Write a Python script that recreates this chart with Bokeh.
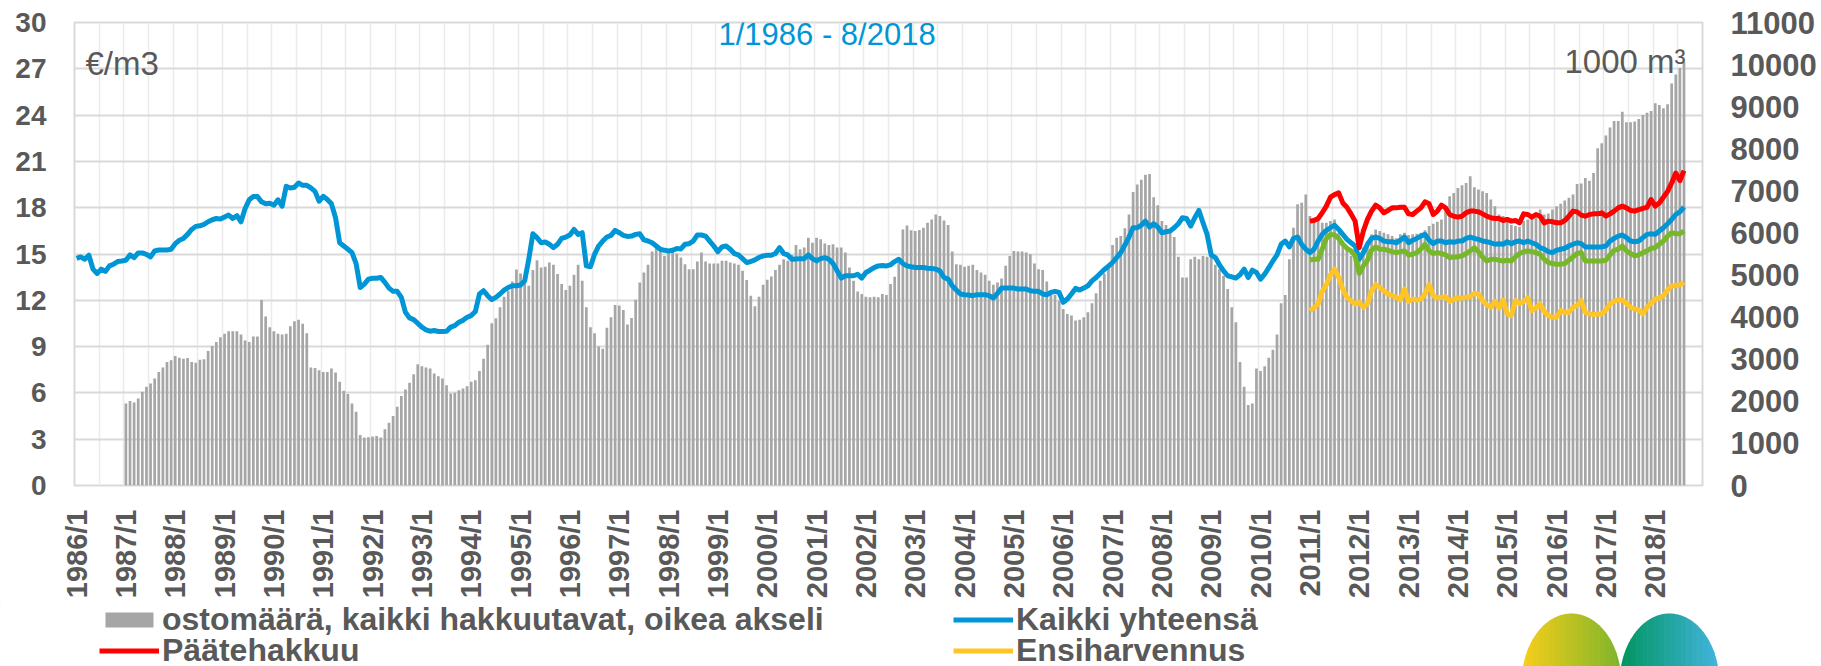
import numpy as np
from bokeh.plotting import figure
from bokeh.layouts import column
from bokeh.models import (Range1d, LinearAxis, FixedTicker, Legend, LegendItem, Label)
from bokeh.embed import file_html
from bokeh.resources import INLINE

FONT = "Liberation Sans"
TXT = "#595959"

# ---------------- categories ----------------
months = [f"{y}/{m}" for y in range(1986, 2019) for m in range(1, 13)]   # axis runs 1986/1 .. 2018/12
year_labels = [f"{y}/1" for y in range(1986, 2019)]

# ---------------- data ----------------
# ostomäärä, kaikki hakkuutavat (1000 m3), 1987/1 .. 2018/8
vol_months = months[12:392]
vol = [
    1950, 2005, 1974, 2068, 2226, 2344, 2423, 2541, 2698, 2801, 2934, 2974,
    3076, 3037, 3013, 3029, 2934, 2919, 2989, 2997, 3194, 3313, 3407, 3525,
    3604, 3667, 3667, 3667, 3588, 3446, 3407, 3541, 3541, 4408, 4014, 3762,
    3667, 3604, 3588, 3604, 3785, 3903, 3935, 3840, 3620, 2801, 2793, 2738,
    2698, 2698, 2777, 2683, 2462, 2249, 2171, 1950, 1753, 1202, 1139, 1147,
    1162, 1178, 1139, 1336, 1493, 1651, 1871, 2124, 2281, 2439, 2643, 2879,
    2832, 2801, 2777, 2659, 2596, 2541, 2383, 2186, 2202, 2265, 2305, 2360,
    2462, 2502, 2722, 3013, 3344, 3856, 3974, 4234, 4486, 4628, 4849, 5132,
    5038, 4959, 4746, 5117, 5353, 5179, 5195, 5298, 5242, 5022, 4786, 4644,
    4746, 5006, 5242, 4864, 4234, 3762, 3620, 3305, 3249, 3746, 3998, 4289,
    4274, 4171, 3825, 3982, 4415, 4825, 5061, 5242, 5558, 5676, 5613, 5455,
    5558, 5558, 5510, 5416, 5258, 5140, 5140, 5321, 5534, 5321, 5274, 5274,
    5274, 5337, 5337, 5298, 5274, 5242, 5101, 4880, 4510, 4258, 4486, 4770,
    4888, 4967, 5117, 5242, 5376, 5337, 5479, 5715, 5613, 5652, 5888, 5770,
    5888, 5849, 5747, 5715, 5731, 5652, 5652, 5534, 5179, 4864, 4612, 4549,
    4486, 4470, 4486, 4470, 4549, 4526, 4786, 4959, 5298, 6085, 6180, 6062,
    6046, 6070, 6125, 6243, 6322, 6440, 6400, 6298, 6188, 5558, 5258, 5242,
    5195, 5219, 5242, 5117, 5061, 5006, 4864, 4770, 4825, 4920, 5219, 5455,
    5573, 5558, 5558, 5534, 5495, 5274, 5140, 5117, 4849, 4628, 4534, 4392,
    4195, 4077, 4037, 3919, 3935, 3998, 4116, 4329, 4565, 4864, 5038, 5258,
    5715, 5888, 5928, 6109, 6440, 6975, 7149, 7267, 7385, 7401, 6849, 6660,
    6282, 6188, 6062, 5904, 5432, 4943, 4943, 5376, 5432, 5376, 5455, 5432,
    5432, 5242, 5140, 4983, 4667, 4234, 3880, 2934, 2344, 1911, 1950, 2777,
    2722, 2832, 3037, 3226, 3588, 4329, 4526, 5376, 6125, 6684, 6716, 6913,
    6400, 6361, 6345, 6243, 6243, 6282, 6322, 6007, 5810, 5652, 5455, 5376,
    5416, 5652, 5810, 5967, 6085, 6046, 6007, 5967, 5928, 5873, 5967, 6007,
    5951, 5967, 5983, 6007, 6062, 6164, 6219, 6267, 6322, 6519, 6873, 6952,
    7070, 7133, 7188, 7346, 7086, 7030, 6991, 6952, 6794, 6637, 6440, 6400,
    6377, 6188, 6164, 6141, 6282, 6322, 6400, 6361, 6558, 6440, 6463, 6558,
    6637, 6692, 6771, 6834, 6912, 7164, 7172, 7306, 7243, 7424, 8015, 8133,
    8315, 8503, 8661, 8661, 8882, 8630, 8630, 8645, 8708, 8803, 8858, 8897,
    9079, 9039, 8960, 9055, 9551, 9764, 9921, 10063,
]

# Kaikki yhteensä (€/m3), 1986/1 .. 2018/8
price_months = months[0:392]
kaikki = [
    14.72, 14.81, 14.66, 14.92, 14.02, 13.74, 14.02, 13.87, 14.23, 14.34, 14.51, 14.55,
    14.60, 14.94, 14.77, 15.07, 15.07, 14.98, 14.81, 15.20, 15.26, 15.26, 15.26, 15.31,
    15.67, 15.89, 16.01, 16.27, 16.59, 16.79, 16.83, 16.92, 17.09, 17.22, 17.30, 17.26,
    17.39, 17.52, 17.30, 17.48, 17.09, 17.95, 18.51, 18.72, 18.72, 18.38, 18.25, 18.29,
    18.16, 18.51, 18.10, 19.39, 19.28, 19.32, 19.60, 19.45, 19.45, 19.28, 19.06, 18.42,
    18.74, 18.53, 18.25, 17.35, 15.73, 15.52, 15.31, 15.09, 14.38, 12.83, 13.05, 13.37,
    13.43, 13.43, 13.48, 13.16, 12.79, 12.58, 12.58, 12.19, 11.22, 10.86, 10.75, 10.51,
    10.26, 10.09, 10.00, 10.04, 9.98, 9.98, 10.00, 10.26, 10.36, 10.58, 10.70, 10.90,
    11.01, 11.27, 12.41, 12.62, 12.30, 12.04, 12.19, 12.41, 12.66, 12.83, 12.94, 12.94,
    12.99, 13.26, 14.66, 16.31, 16.06, 15.73, 15.78, 15.63, 15.41, 15.63, 16.01, 16.10,
    16.23, 16.59, 16.27, 16.38, 14.23, 14.17, 14.98, 15.52, 15.84, 16.10, 16.21, 16.53,
    16.38, 16.21, 16.14, 16.16, 16.27, 16.31, 15.91, 15.84, 15.73, 15.52, 15.31, 15.24,
    15.20, 15.24, 15.35, 15.33, 15.63, 15.67, 15.84, 16.23, 16.23, 16.16, 15.84, 15.52,
    15.15, 15.46, 15.52, 15.31, 15.03, 14.94, 14.70, 14.45, 14.51, 14.62, 14.77, 14.88,
    14.92, 14.92, 15.03, 15.41, 15.03, 14.94, 14.66, 14.68, 14.70, 14.70, 14.94, 14.70,
    14.55, 14.70, 14.77, 14.66, 14.38, 13.91, 13.44, 13.59, 13.59, 13.59, 13.69, 13.44,
    13.80, 13.95, 14.12, 14.23, 14.25, 14.23, 14.30, 14.51, 14.66, 14.38, 14.23, 14.17,
    14.12, 14.12, 14.12, 14.08, 14.06, 14.02, 13.91, 13.48, 13.37, 12.94, 12.66, 12.41,
    12.36, 12.34, 12.30, 12.36, 12.36, 12.36, 12.30, 12.15, 12.45, 12.79, 12.79, 12.79,
    12.79, 12.73, 12.73, 12.73, 12.62, 12.58, 12.58, 12.41, 12.36, 12.51, 12.58, 12.51,
    11.87, 12.08, 12.41, 12.77, 12.66, 12.79, 12.94, 13.26, 13.48, 13.74, 14.00, 14.21,
    14.45, 14.77, 15.09, 15.58, 16.10, 16.70, 16.70, 16.87, 17.13, 16.75, 16.96, 16.75,
    16.38, 16.44, 16.49, 16.70, 16.96, 17.35, 17.30, 16.81, 17.35, 17.82, 17.02, 16.27,
    14.94, 14.77, 14.30, 13.91, 13.59, 13.52, 13.44, 13.65, 14.02, 13.48, 13.95, 13.80,
    13.37, 13.69, 14.12, 14.55, 14.94, 15.63, 15.84, 15.46, 16.01, 16.10, 15.63, 15.31,
    15.09, 15.31, 15.84, 16.27, 16.53, 16.70, 16.87, 16.59, 16.27, 15.95, 15.73, 15.52,
    14.66, 15.09, 15.63, 16.01, 16.10, 16.01, 15.84, 15.80, 15.80, 15.73, 15.89, 16.10,
    15.73, 15.89, 16.01, 16.16, 16.27, 15.89, 15.67, 15.84, 15.84, 15.73, 15.80, 15.76,
    15.84, 15.84, 16.01, 16.10, 16.01, 15.95, 15.84, 15.80, 15.73, 15.63, 15.67, 15.63,
    15.80, 15.67, 15.80, 15.84, 15.73, 15.84, 15.73, 15.63, 15.41, 15.31, 15.15, 15.09,
    15.24, 15.31, 15.37, 15.52, 15.63, 15.73, 15.67, 15.46, 15.46, 15.46, 15.46, 15.46,
    15.52, 15.84, 16.01, 16.16, 16.23, 16.06, 15.84, 15.80, 15.84, 16.06, 16.27, 16.31,
    16.27, 16.49, 16.70, 16.96, 17.24, 17.56, 17.73, 18.04,
]

# hakkuutavoittain (€/m3), 2011/1 .. 2018/8
cut_months = months[300:392]
paatehakkuu = [
    17.13, 17.17, 17.30, 17.67, 18.10, 18.68, 18.85, 18.96, 18.31, 18.03, 17.60, 17.13,
    15.41, 16.49, 17.24, 17.78, 18.16, 17.99, 17.67, 17.82, 17.99, 17.99, 18.03, 18.03,
    17.60, 17.56, 17.78, 17.99, 18.38, 18.25, 17.56, 17.78, 18.16, 17.99, 17.56, 17.45,
    17.39, 17.45, 17.67, 17.78, 17.78, 17.73, 17.60, 17.45, 17.35, 17.30, 17.30, 17.17,
    17.24, 17.13, 17.17, 17.02, 17.60, 17.56, 17.39, 17.56, 17.45, 17.02, 17.13, 17.09,
    17.02, 17.02, 17.17, 17.45, 17.78, 17.73, 17.52, 17.45, 17.56, 17.60, 17.60, 17.67,
    17.45, 17.60, 17.78, 17.99, 18.10, 17.99, 17.82, 17.78, 17.88, 17.95, 18.03, 18.53,
    18.10, 18.31, 18.68, 19.06, 19.60, 20.25, 19.75, 20.40,
]
harvennus = [
    14.60, 14.66, 14.66, 15.31, 16.01, 16.27, 16.23, 16.01, 15.63, 15.37, 15.20, 14.88,
    13.74, 14.23, 14.60, 15.24, 15.46, 15.31, 15.31, 15.24, 15.15, 15.09, 15.15, 15.20,
    14.94, 14.98, 15.09, 15.31, 15.63, 15.20, 15.03, 15.09, 15.03, 14.94, 14.77, 14.81,
    14.81, 14.88, 15.03, 15.20, 15.41, 15.15, 14.81, 14.55, 14.66, 14.66, 14.60, 14.55,
    14.60, 14.55, 14.81, 15.03, 15.15, 15.20, 15.15, 15.09, 14.98, 14.66, 14.45, 14.38,
    14.34, 14.34, 14.38, 14.60, 14.81, 15.03, 15.09, 14.55, 14.55, 14.55, 14.55, 14.55,
    14.60, 14.94, 15.24, 15.31, 15.52, 15.20, 15.03, 14.88, 14.94, 15.09, 15.20, 15.37,
    15.41, 15.63, 15.84, 16.16, 16.38, 16.31, 16.31, 16.49,
]
ensiharvennus = [
    11.33, 11.50, 11.76, 12.58, 13.01, 13.65, 14.02, 13.48, 12.73, 12.19, 11.98, 11.76,
    11.87, 11.55, 11.76, 12.62, 13.01, 12.83, 12.62, 12.41, 12.30, 12.19, 12.02, 12.73,
    11.93, 12.08, 12.02, 12.08, 12.41, 13.01, 12.30, 12.15, 12.19, 12.23, 11.93, 12.08,
    12.15, 12.15, 12.19, 12.23, 12.45, 12.41, 11.98, 11.72, 11.55, 11.93, 11.50, 12.02,
    11.12, 11.01, 11.98, 11.80, 11.93, 12.15, 11.33, 11.50, 11.76, 11.29, 11.01, 10.90,
    10.90, 11.33, 11.22, 11.22, 11.55, 11.65, 11.98, 11.22, 11.12, 11.07, 11.12, 11.12,
    11.37, 11.76, 11.93, 12.02, 12.02, 11.80, 11.55, 11.44, 11.37, 11.12, 11.55, 11.80,
    12.08, 12.15, 12.30, 12.66, 12.94, 12.94, 13.01, 13.16,
]

left_ticks = [0, 3, 6, 9, 12, 15, 18, 21, 24, 27, 30]
right_ticks = [0, 1000, 2000, 3000, 4000, 5000, 6000, 7000, 8000, 9000, 10000, 11000]

legend_labels = ["ostomäärä, kaikki hakkuutavat, oikea akseli", "Kaikki yhteensä",
                 "Päätehakkuu", "Ensiharvennus"]

C_BAR, C_BLUE, C_RED, C_YEL, C_GRN = "#A6A6A6", "#0096D6", "#FF0000", "#FFC526", "#77B82A"

pos = {m: i for i, m in enumerate(months)}

# ---------------- main figure ----------------
W = 1821
BL, BR, BT, BB = 74, 119, 22, 113
H1 = BT + 466 + BB      # 601: chart incl. x labels
H2 = 666 - H1           # legend + logo strip
p = figure(width=W, height=H1, output_backend="svg", toolbar_location=None,
           x_range=Range1d(-0.5, len(months) - 0.5), y_range=Range1d(0, 30),
           min_border_left=BL, min_border_right=BR, min_border_top=BT,
           min_border_bottom=BB)
p.extra_y_ranges = {"vol": Range1d(0, 11000)}
p.outline_line_color = "#D9D9D9"
p.outline_line_width = 2

p.xgrid.ticker = FixedTicker(ticks=[k * 6 - 0.5 for k in range(len(months) // 6 + 1)])
p.xgrid.grid_line_color = "#EBEBEB"
p.xgrid.grid_line_width = 1.5
p.ygrid.ticker = FixedTicker(ticks=left_ticks)
p.ygrid.grid_line_color = "#D9D9D9"
p.ygrid.grid_line_width = 2

def style_axis(ax, size, standoff):
    ax.major_label_text_font = FONT
    ax.major_label_text_font_style = "bold"
    ax.major_label_text_font_size = size
    ax.major_label_text_color = TXT
    ax.major_label_standoff = standoff
    ax.axis_line_color = None
    ax.major_tick_line_color = None
    ax.minor_tick_line_color = None
    ax.major_tick_out = 0
    ax.minor_tick_out = 0

xa = p.xaxis[0]
xa.ticker = FixedTicker(ticks=[pos[y] for y in year_labels])
xa.major_label_overrides = {pos[y]: y for y in year_labels}
xa.major_label_orientation = float(np.pi / 2)
style_axis(xa, "29px", 24)

ya = p.yaxis[0]
ya.ticker = FixedTicker(ticks=left_ticks)
style_axis(ya, "28px", 28)

ra = LinearAxis(y_range_name="vol", ticker=FixedTicker(ticks=right_ticks))
style_axis(ra, "31px", 28)
p.add_layout(ra, "right")

p.vbar(x=[pos[m] for m in vol_months], top=vol, width=0.66,
       fill_color=C_BAR, line_color=None, y_range_name="vol")
LW = 5
p.line([pos[m] for m in price_months], kaikki, line_width=LW, line_color=C_BLUE, line_join="round")
cx = [pos[m] for m in cut_months]
p.line(cx, paatehakkuu, line_width=LW, line_color=C_RED, line_join="round")
p.line(cx, ensiharvennus, line_width=LW, line_color=C_YEL, line_join="round")
p.line(cx, harvennus, line_width=LW, line_color=C_GRN, line_join="round")

FB = H1 - BB   # frame bottom in canvas px

def fx(x):
    return x - BL

def fy(y):
    return FB - y

p.add_layout(Label(x=fx(718), y=fy(37), x_units="screen", y_units="screen",
                   text="1/1986 - 8/2018", text_font=FONT, text_font_size="31px",
                   text_color=C_BLUE, text_baseline="alphabetic"))
p.add_layout(Label(x=fx(85), y=fy(66), x_units="screen", y_units="screen",
                   text="€/m3", text_font=FONT, text_font_size="33px",
                   text_color=TXT, text_baseline="alphabetic"))
p.add_layout(Label(x=fx(1685), y=fy(64), x_units="screen", y_units="screen",
                   text="1000 m³", text_font=FONT, text_font_size="33px",
                   text_color=TXT, text_baseline="alphabetic", text_align="right"))

# ---------------- legend / logo strip ----------------
q = figure(width=W, height=H2, output_backend="svg", toolbar_location=None,
           x_range=Range1d(0, W), y_range=Range1d(H2, 0),
           min_border=0, x_axis_location=None, y_axis_location=None)
q.grid.visible = False
q.outline_line_color = None
for fig in (p, q):
    try:
        fig.frame_align = False
    except Exception:
        pass

# legend swatches: renderers carrying the series styles, placed off-range
d_bar = q.vbar(x=[-500], top=[1], width=1, fill_color=C_BAR, line_color=None)
d_blue = q.line(x=[-500, -490], y=[1, 1], line_width=LW, line_color=C_BLUE)
d_red = q.line(x=[-500, -490], y=[1, 1], line_width=LW, line_color=C_RED)
d_yel = q.line(x=[-500, -490], y=[1, 1], line_width=LW, line_color=C_YEL)

LH = 32
def add_legend(label, rend, x, y_center):
    lg = Legend(items=[LegendItem(label=label, renderers=[rend])],
                location=(x, H2 - (y_center + LH / 2)), orientation="vertical",
                padding=0, margin=0, spacing=0, glyph_width=60, glyph_height=19,
                label_height=LH, label_standoff=3, border_line_color=None,
                background_fill_alpha=0, label_text_font=FONT,
                label_text_font_style="bold", label_text_font_size="32px",
                label_text_color=TXT)
    q.add_layout(lg)

add_legend(legend_labels[0], d_bar, 99, 21)
add_legend(legend_labels[1], d_blue, 953, 21)
add_legend(legend_labels[2], d_red, 99, 52)
add_legend(legend_labels[3], d_yel, 953, 52)

def hexrgb(h):
    return np.array([int(h[i:i + 2], 16) for i in (1, 3, 5)], dtype=float)

def oval(cxp, cyp, a, b, c0, c1, n=18):
    c0, c1 = hexrgb(c0), hexrgb(c1)
    edges = np.linspace(cxp - a, cxp + a, n + 1)
    xs_all, ys_all, cols = [], [], []
    for k in range(n):
        xs = np.linspace(edges[k], edges[k + 1] + 0.6, 12)
        h = b * np.sqrt(np.clip(1 - ((xs - cxp) / a) ** 2, 0, 1))
        xs_all.append(list(xs) + list(xs[::-1]))
        ys_all.append(list(cyp - h) + list((cyp + h)[::-1]))
        t = (k + 0.5) / n
        cols.append("#%02x%02x%02x" % tuple(int(v) for v in (c0 * (1 - t) + c1 * t)))
    q.patches(xs_all, ys_all, fill_color=cols, line_color=None)

# logo ovals (strip coordinates: x = canvas px, y = px from strip top)
oval(1571, 82, 50, 70, "#F9CF1A", "#7DB52C")
oval(1669, 82, 50, 70, "#00955F", "#44B5E0")

open("out.html", "w").write(file_html(column(p, q, spacing=0), INLINE))
